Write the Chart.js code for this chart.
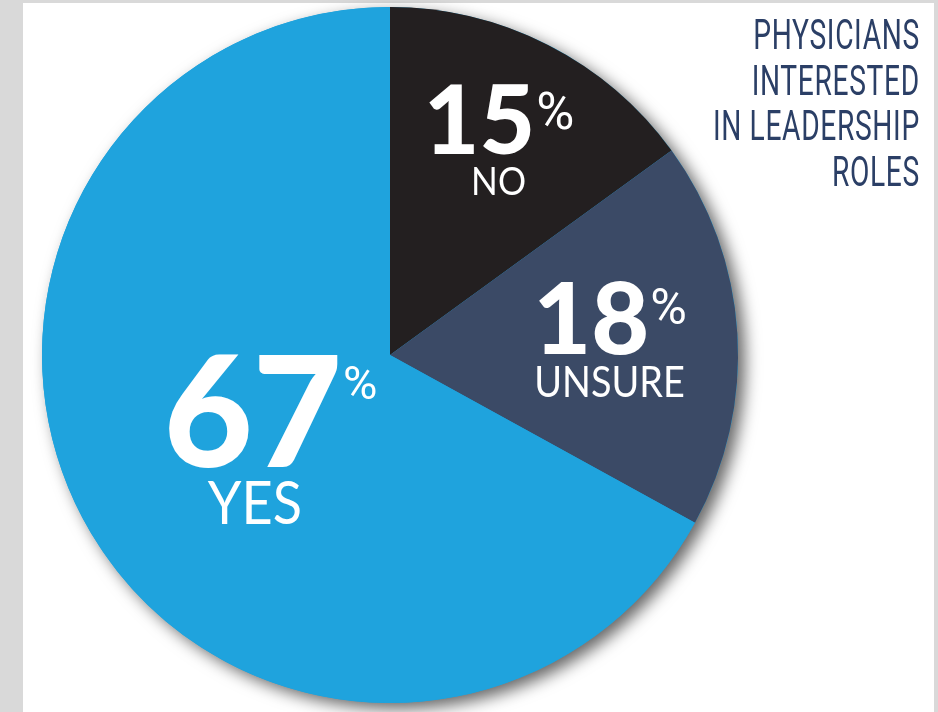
<!DOCTYPE html>
<html>
<head>
<meta charset="utf-8">
<script src="https://cdn.jsdelivr.net/npm/chart.js@4.4.0/dist/chart.umd.min.js"></script>
<style>
    html, body { margin: 0; padding: 0; width: 938px; height: 712px; overflow: hidden; background: #d9d9d9; }
    #panel { position: absolute; left: 23px; top: 3px; width: 911px; height: 709px; background: #fff; }
    #pie { position: absolute; left: 0; top: 0; }
    #title {
        position: absolute; right: 18px; top: 12px;
        text-align: right; color: #2b3f66;
        font-family: Roboto, "DejaVu Sans", sans-serif; font-weight: 400;
        font-size: 43px; line-height: 45.5px; letter-spacing: 1px;
        transform-origin: right top; white-space: nowrap;
    }
</style>
</head>
<body>
<div id="panel"></div>
<canvas id="pie" width="938" height="712"></canvas>
<div id="title"></div>

<script>
// data
const categories = ['NO', 'UNSURE', 'YES'];
const shares = [15, 18, 67];
const titleLines = ['PHYSICIANS', 'INTERESTED', 'IN LEADERSHIP', 'ROLES'];

// look
const sliceColors = ['#231f20', '#3b4a66', '#1fa3dd'];
const labelRadius = [0.687, 0.632, 0.428];
const labelTurn = [0, 0, -5.7];   // degrees, nudge off the bisector
const numberSize = [96, 100, 154];
const pctSize = [52, 50, 47];
const nameSize = [39, 42, 60];
const nameShift = [0, 0, -15];
const nameSqueeze = 0.9;

// title, squeezed to look like the condensed face in the original
const title = document.getElementById('title');
title.innerHTML = titleLines.map(t => `<div>${t}</div>`).join('');
const widest = title.getBoundingClientRect().width;
title.style.transform = `scaleX(${207 / widest})`;

const shadowPlugin = {
    id: 'pieShadow',
    beforeDatasetsDraw(chart) {
        const arc = chart.getDatasetMeta(0).data[0];
        const ctx = chart.ctx;
        ctx.save();
        ctx.shadowColor = 'rgba(0,0,0,0.6)';
        ctx.shadowBlur = 16;
        ctx.shadowOffsetX = 7;
        ctx.shadowOffsetY = 6;
        ctx.beginPath();
        ctx.arc(arc.x, arc.y, arc.outerRadius, 0, Math.PI * 2);
        ctx.fillStyle = sliceColors[2];
        ctx.fill();
        ctx.restore();
    }
};

const labelPlugin = {
    id: 'sliceLabels',
    afterDatasetsDraw(chart) {
        const ctx = chart.ctx;
        chart.getDatasetMeta(0).data.forEach((arc, i) => {
            const { x, y, startAngle, endAngle, outerRadius } =
                arc.getProps(['x', 'y', 'startAngle', 'endAngle', 'outerRadius'], true);
            const mid = (startAngle + endAngle) / 2 + labelTurn[i] * Math.PI / 180;
            const cx = x + Math.cos(mid) * outerRadius * labelRadius[i];
            const cy = y + Math.sin(mid) * outerRadius * labelRadius[i];

            const num = String(shares[i]);
            const numFont = `900 ${numberSize[i]}px Lato`;
            const pctFont = `400 ${pctSize[i]}px Roboto`;
            const nameFont = `400 ${nameSize[i]}px Lato`;

            ctx.save();
            ctx.fillStyle = '#fff';
            ctx.textBaseline = 'alphabetic';
            ctx.textAlign = 'left';

            ctx.font = numFont;
            const numW = ctx.measureText(num).width;
            ctx.font = pctFont;
            const pctW = ctx.measureText('%').width;
            const blockW = numW + pctW;

            const numCap = numberSize[i] * 0.68;
            const nameCap = nameSize[i] * 0.72;
            const gap = 13;
            const top = cy - (numCap + gap + nameCap) / 2;
            const left = cx - blockW / 2;

            ctx.font = numFont;
            ctx.fillText(num, left, top + numCap);
            ctx.font = pctFont;
            ctx.fillText('%', left + numW + 1, top + 3 + pctSize[i] * 0.71);

            ctx.font = nameFont;
            ctx.textAlign = 'center';
            ctx.translate(cx + nameShift[i], top + numCap + gap + nameCap);
            ctx.scale(nameSqueeze, 1);
            ctx.fillText(categories[i], 0, 0);
            ctx.restore();
        });
    }
};

new Chart(document.getElementById('pie'), {
    type: 'pie',
    data: {
        labels: categories,
        datasets: [{
            data: shares,
            backgroundColor: sliceColors,
            borderWidth: 0
        }]
    },
    options: {
        responsive: false,
        animation: false,
        devicePixelRatio: 1,
        layout: { padding: { left: 42, top: 7, right: 200, bottom: 9 } },
        plugins: { legend: { display: false }, tooltip: { enabled: false } }
    },
    plugins: [shadowPlugin, labelPlugin]
});
</script>
</body>
</html>
